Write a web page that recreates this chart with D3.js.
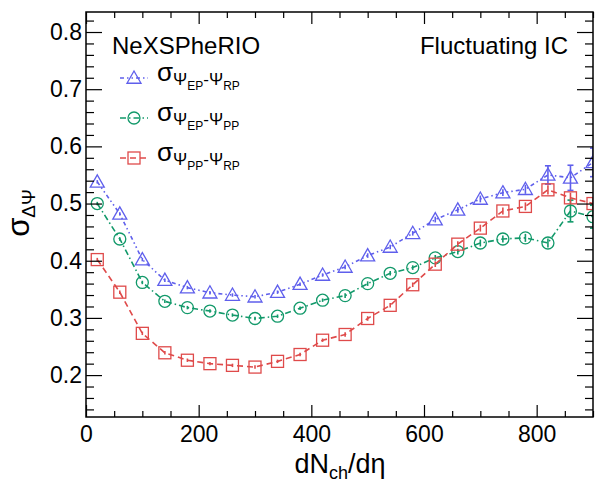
<!DOCTYPE html>
<html><head><meta charset="utf-8">
<script src="https://cdn.jsdelivr.net/npm/d3@7"></script>
<style>body{margin:0;background:#fff}svg{display:block;font-family:"Liberation Sans",Arial,sans-serif}</style>
</head><body><div id="chart"></div>
<script>
const xValues = [20,60,100,140,180,220,260,300,340,380,420,460,500,540,580,620,660,700,740,780,820,860,900];
const epRp = [0.538,0.482,0.402,0.366,0.353,0.344,0.340,0.337,0.345,0.359,0.375,0.389,0.409,0.424,0.448,0.472,0.489,0.508,0.519,0.525,0.550,0.545,0.572];
const epPp = [0.500,0.438,0.362,0.329,0.318,0.312,0.305,0.299,0.303,0.317,0.331,0.339,0.360,0.378,0.388,0.405,0.416,0.431,0.438,0.440,0.431,0.487,0.477];
const ppRp = [0.402,0.345,0.273,0.239,0.226,0.220,0.217,0.214,0.224,0.236,0.261,0.271,0.299,0.322,0.358,0.394,0.429,0.457,0.487,0.495,0.524,0.510,0.500];
const epRpErr = [0.003,0.003,0.003,0.003,0.003,0.003,0.003,0.003,0.003,0.003,0.003,0.004,0.004,0.004,0.004,0.005,0.005,0.006,0.006,0.008,0.016,0.022,0.025];
const epPpErr = [0.003,0.003,0.003,0.003,0.003,0.003,0.003,0.003,0.003,0.003,0.003,0.004,0.004,0.004,0.004,0.005,0.005,0.006,0.006,0.007,0.008,0.019,0.02];
const ppRpErr = [0.003,0.003,0.003,0.003,0.003,0.003,0.003,0.003,0.003,0.003,0.003,0.004,0.004,0.004,0.004,0.005,0.005,0.006,0.006,0.007,0.008,0.009,0.01];
const xTicks = [0,200,400,600,800];
const yTicks = [0.2,0.3,0.4,0.5,0.6,0.7,0.8];
const seriesNames = [["EP","RP"],["EP","PP"],["PP","RP"]];

const W=595,H=485;
const L=86,R=593,T=12,B=417;
const svg=d3.select("#chart").append("svg").attr("width",W).attr("height",H);
const x=d3.scaleLinear().domain([0,900]).range([L,R]);
const y=d3.scaleLinear().domain([0.1267,0.835]).range([B,T]);

const series=[
 {vals:epRp,err:epRpErr,color:"#5f5fec",dash:"4,3,1.5,3,1.5,3",marker:"tri"},
 {vals:epPp,err:epPpErr,color:"#12996a",dash:"6,3,1.5,3",marker:"circ"},
 {vals:ppRp,err:ppRpErr,color:"#df4a4a",dash:"6,4",marker:"sq"}
];

svg.append("defs").append("clipPath").attr("id","clip").append("rect")
 .attr("x",L).attr("y",T).attr("width",R-L).attr("height",B-T);
const g=svg.append("g").attr("clip-path","url(#clip)");

function drawMarker(sel,type,cx,cy,color){
  if(type==="tri"){
    const s=7;
    sel.append("path").attr("d",`M${cx},${cy-s}L${cx+s},${cy+s*0.75}L${cx-s},${cy+s*0.75}Z`)
      .attr("fill","none").attr("stroke",color).attr("stroke-width",1.3);
  } else if(type==="circ"){
    sel.append("circle").attr("cx",cx).attr("cy",cy).attr("r",6)
      .attr("fill","none").attr("stroke",color).attr("stroke-width",1.3);
  } else {
    sel.append("rect").attr("x",cx-6).attr("y",cy-6).attr("width",12).attr("height",12)
      .attr("fill","none").attr("stroke",color).attr("stroke-width",1.3);
  }
}

const line=d3.line().x((d,i)=>x(xValues[i])).y(d=>y(d));
series.forEach(s=>{
  g.append("path").datum(s.vals).attr("d",line).attr("fill","none")
   .attr("stroke",s.color).attr("stroke-width",1.6).attr("stroke-dasharray",s.dash);
  s.vals.forEach((v,i)=>{
    const cx=x(xValues[i]),y1=y(v+s.err[i]),y2=y(v-s.err[i]);
    g.append("line").attr("x1",cx).attr("x2",cx).attr("y1",y1).attr("y2",y2)
     .attr("stroke",s.color).attr("stroke-width",1.6);
    if(y2-y1>12){
      [y1,y2].forEach(yy=>g.append("line").attr("x1",cx-3).attr("x2",cx+3).attr("y1",yy).attr("y2",yy)
       .attr("stroke",s.color).attr("stroke-width",1.6));
    }
    drawMarker(g,s.marker,cx,y(v),s.color);
  });
});

// frame
svg.append("rect").attr("x",L).attr("y",T).attr("width",R-L).attr("height",B-T)
 .attr("fill","none").attr("stroke","#000").attr("stroke-width",1.5);

// x ticks
const xAxB=d3.axisBottom(x).tickValues(xTicks).tickSize(-12).tickPadding(9).tickFormat(d3.format("d"));
const gxb=svg.append("g").attr("transform",`translate(0,${B})`).call(xAxB);
gxb.select(".domain").remove();
gxb.selectAll("text").attr("font-size",23).attr("fill","#000").attr("font-family","Liberation Sans, Arial, sans-serif");
const xMinor=d3.range(0,901,50).filter(v=>v%200!==0);
const gxm=svg.append("g").attr("transform",`translate(0,${B})`).call(d3.axisBottom(x).tickValues(xMinor).tickSize(-6).tickFormat(""));
gxm.select(".domain").remove();
const gxt=svg.append("g").attr("transform",`translate(0,${T})`).call(d3.axisTop(x).tickValues(xTicks).tickSize(-12).tickFormat(""));
gxt.select(".domain").remove();
const gxtm=svg.append("g").attr("transform",`translate(0,${T})`).call(d3.axisTop(x).tickValues(xMinor).tickSize(-6).tickFormat(""));
gxtm.select(".domain").remove();

// y ticks
const gyl=svg.append("g").attr("transform",`translate(${L},0)`).call(d3.axisLeft(y).tickValues(yTicks).tickSize(-16).tickPadding(4).tickFormat(d3.format(".1f")));
gyl.select(".domain").remove();
gyl.selectAll("text").attr("font-size",23).attr("fill","#000").attr("font-family","Liberation Sans, Arial, sans-serif");
const yMinor=d3.range(0.14,0.835,0.02).map(v=>+v.toFixed(2)).filter(v=>Math.abs(v*10-Math.round(v*10))>0.01);
const gylm=svg.append("g").attr("transform",`translate(${L},0)`).call(d3.axisLeft(y).tickValues(yMinor).tickSize(-8).tickFormat(""));
gylm.select(".domain").remove();
const gyr=svg.append("g").attr("transform",`translate(${R},0)`).call(d3.axisRight(y).tickValues(yTicks).tickSize(-16).tickFormat(""));
gyr.select(".domain").remove();
const gyrm=svg.append("g").attr("transform",`translate(${R},0)`).call(d3.axisRight(y).tickValues(yMinor).tickSize(-8).tickFormat(""));
gyrm.select(".domain").remove();
svg.selectAll(".tick line").attr("stroke","#000").attr("stroke-width",1.2);

// axis titles
const xt=svg.append("text").attr("x",340).attr("y",473).attr("text-anchor","middle").attr("font-size",27);
xt.append("tspan").text("dN");
xt.append("tspan").attr("font-size",18).attr("dy",6).text("ch");
xt.append("tspan").attr("dy",-6).text("/dη");

const yt=svg.append("text").attr("transform","translate(29,213) rotate(-90)").attr("text-anchor","middle").attr("font-size",31);
yt.append("tspan").text("σ");
yt.append("tspan").attr("font-size",19).attr("dy",6).text("ΔΨ");

// labels
svg.append("text").attr("x",112).attr("y",54).attr("font-size",24).text("NeXSPheRIO");
svg.append("text").attr("x",568).attr("y",54).attr("font-size",24).attr("text-anchor","end").text("Fluctuating IC");

// legend
const legY=[78,118,158];
series.forEach((s,i)=>{
  const ly=legY[i];
  svg.append("line").attr("x1",120).attr("x2",148).attr("y1",ly).attr("y2",ly)
   .attr("stroke",s.color).attr("stroke-width",1.6).attr("stroke-dasharray",s.dash);
  drawMarker(svg,s.marker,134,ly,s.color);
  const t=svg.append("text").attr("x",157).attr("y",ly+3).attr("font-size",26);
  t.append("tspan").text("σ");
  t.append("tspan").attr("font-size",17).attr("dy",4).text("Ψ");
  t.append("tspan").attr("font-size",12).attr("dy",5).text(seriesNames[i][0]);
  t.append("tspan").attr("font-size",17).attr("dy",-5).text("-Ψ");
  t.append("tspan").attr("font-size",12).attr("dy",5).text(seriesNames[i][1]);
});
</script></body></html>
